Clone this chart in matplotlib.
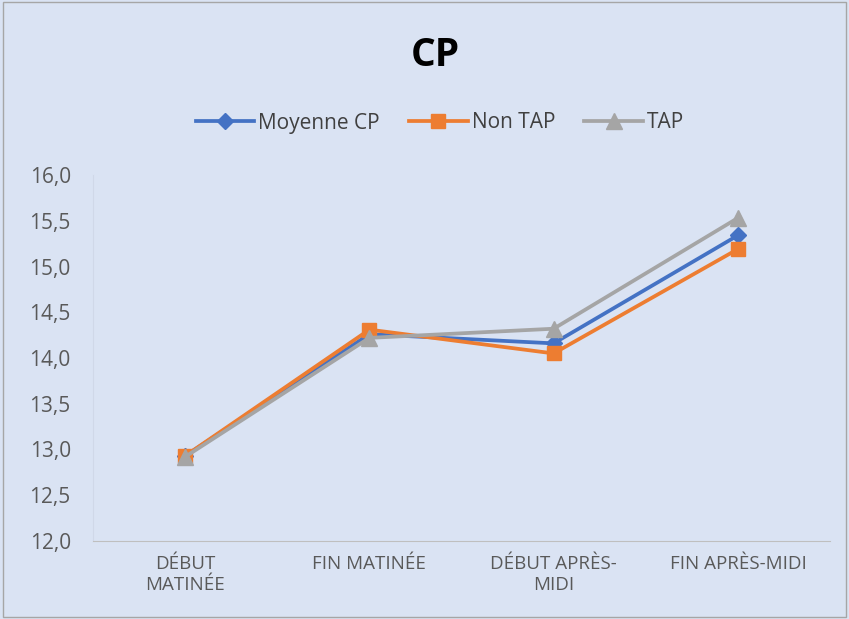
import matplotlib
matplotlib.use("Agg")
import matplotlib.pyplot as plt
from matplotlib.ticker import FuncFormatter

categories = ["DÉBUT\nMATINÉE", "FIN MATINÉE", "DÉBUT APRÈS-\nMIDI", "FIN APRÈS-MIDI"]
moyenne_cp = [12.93, 14.26, 14.16, 15.34]
non_tap = [12.93, 14.31, 14.05, 15.19]
tap = [12.92, 14.22, 14.32, 15.53]
y_ticks = [12.0, 12.5, 13.0, 13.5, 14.0, 14.5, 15.0, 15.5, 16.0]

bg = "#DAE3F3"
plt.rcParams['font.family'] = ['Open Sans', 'DejaVu Sans']

fig = plt.figure(figsize=(8.49, 6.19), dpi=100, facecolor=bg)
ax = fig.add_axes([93/849, 1-541/619, 737/849, 366/619])
ax.set_facecolor(bg)

x = list(range(len(categories)))
ax.plot(x, moyenne_cp, color="#4472C4", lw=2.7, marker="D", ms=8.5, label="Moyenne CP", zorder=3)
ax.plot(x, non_tap, color="#ED7D31", lw=2.7, marker="s", ms=10, label="Non TAP", zorder=4)
ax.plot(x, tap, color="#A5A5A5", lw=2.7, marker="^", ms=11, label="TAP", zorder=5)

ax.set_xlim(-0.5, 3.5)
ax.set_ylim(12.0, 16.0)
ax.set_yticks(y_ticks)
ax.yaxis.set_major_formatter(FuncFormatter(lambda v, p: f"{v:.1f}".replace(".", ",")))
ax.set_xticks(x)
ax.set_xticklabels(categories, fontsize=13.5, color="#595959", linespacing=1.25)
ax.tick_params(axis="y", length=0, labelsize=15, labelcolor="#595959", pad=16)
ax.tick_params(axis="x", length=0, pad=10)

for s in ["top", "right"]:
    ax.spines[s].set_visible(False)
ax.spines["bottom"].set_color("#BFBFBF")
ax.spines["left"].set_color("#D0D8E8")
ax.spines["left"].set_linewidth(0.8)

fig.text(435/849, 1-55/619, "CP", ha="center", va="center", fontsize=28, fontweight="bold", color="#000000")
fig.legend(loc="center", bbox_to_anchor=(440/849, 1-123/619), ncol=3, frameon=False,
           fontsize=15, handlelength=2.8, handletextpad=0.2, columnspacing=1.4,
           labelcolor="#404040")

border = plt.Rectangle((0.004, 0.004), 0.992, 0.992, transform=fig.transFigure,
                       fill=False, edgecolor="#A6A6A6", lw=1)
fig.patches.append(border)

fig.savefig("out.png", dpi=100, facecolor=bg)
